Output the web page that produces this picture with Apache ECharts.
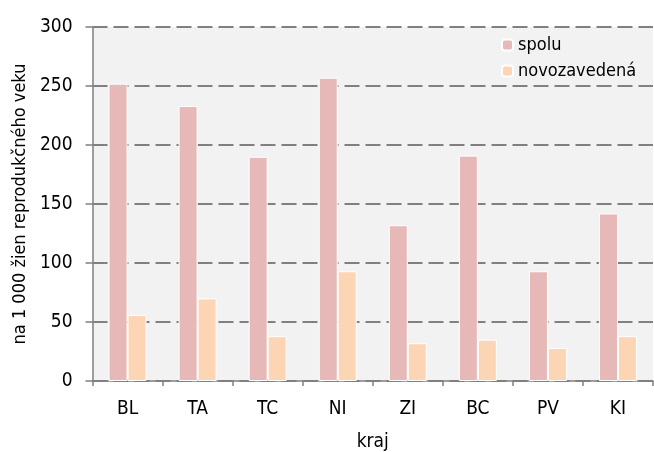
<!DOCTYPE html>
<html>
<head>
<meta charset="utf-8">
<script src="https://cdn.jsdelivr.net/npm/echarts@6/dist/echarts.min.js"></script>
<style>
  html, body { margin: 0; padding: 0; background: #fff; }
  #main { width: 654px; height: 452px; }
</style>
</head>
<body>
<div id="main"></div>
<script>
// kraje
const kraje = ['BL', 'TA', 'TC', 'NI', 'ZI', 'BC', 'PV', 'KI'];
// hodnoty na 1 000 žien reprodukčného veku
const spolu = [252, 233, 190, 257, 132, 191, 93, 142];
const novozavedena = [56, 70, 38, 93, 32, 35, 28, 38];

const font = 'DejaVu Sans Condensed';

let myChart = echarts.init(document.getElementById('main'));
let option = {
  animation: false,
  textStyle: { fontFamily: font },
  grid: {
    left: 92.5, top: 27, right: 1, bottom: 71,
    outerBoundsMode: 'none',
    containLabel: false,
    show: true, backgroundColor: '#f2f2f2', borderWidth: 0
  },
  legend: {
    orient: 'vertical',
    left: 496, top: 31,
    itemWidth: 11, itemHeight: 11, itemGap: 8,
    textStyle: { fontFamily: font, fontSize: 18, color: '#000' },
    data: ['spolu', 'novozavedená']
  },
  xAxis: {
    type: 'category',
    data: kraje,
    name: 'kraj',
    nameLocation: 'middle',
    nameGap: 52,
    nameTextStyle: { fontFamily: font, fontSize: 19, color: '#000' },
    axisLine: { lineStyle: { color: '#808080', width: 1.5 } },
    axisTick: { show: true, length: 5, lineStyle: { color: '#808080', width: 1.5 } },
    axisLabel: { fontFamily: font, fontSize: 19, color: '#000', margin: 19 }
  },
  yAxis: {
    type: 'value',
    min: 0, max: 300, interval: 50,
    name: 'na 1 000 žien reprodukčného veku',
    nameLocation: 'middle',
    nameGap: 62,
    nameTextStyle: { fontFamily: font, fontSize: 18, color: '#000' },
    axisLine: { show: true, lineStyle: { color: '#808080', width: 1.5 } },
    axisTick: { show: true, length: 7, lineStyle: { color: '#808080', width: 1.5 } },
    axisLabel: { fontFamily: font, fontSize: 19, color: '#000', margin: 20 },
    splitLine: { lineStyle: { color: '#808080', width: 2, type: [15, 6] } }
  },
  series: [
    {
      name: 'spolu',
      type: 'bar',
      data: spolu,
      barWidth: 19,
      barGap: '0%',
      itemStyle: { color: '#e6b8b7', borderColor: '#fff', borderWidth: 1 }
    },
    {
      name: 'novozavedená',
      type: 'bar',
      data: novozavedena,
      barWidth: 19,
      itemStyle: { color: '#fcd5b4', borderColor: '#fff', borderWidth: 1 }
    }
  ]
};
myChart.setOption(option);
</script>
</body>
</html>
